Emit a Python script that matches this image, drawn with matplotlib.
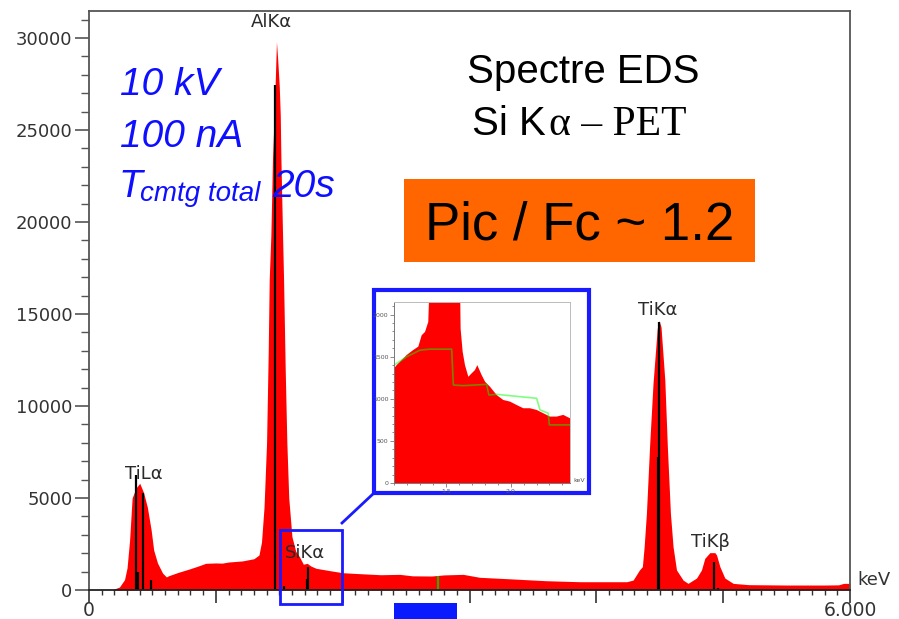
import matplotlib
matplotlib.use("Agg")
import matplotlib.pyplot as plt
from matplotlib.patches import Rectangle
from matplotlib.lines import Line2D
from matplotlib.ticker import MultipleLocator

# ---------------- data ----------------
energy_kev = [0.00, 0.18, 0.20, 0.24, 0.28, 0.30, 0.32, 0.34, 0.37, 0.40, 0.43, 0.46,
              0.49, 0.51, 0.54, 0.58, 0.61, 0.63, 0.70, 0.79, 0.86, 0.92, 1.00, 1.05,
              1.10, 1.21, 1.30, 1.34, 1.36, 1.38, 1.40, 1.413, 1.421, 1.434, 1.447, 1.46,
              1.47, 1.478, 1.488, 1.50, 1.508, 1.513, 1.526, 1.534, 1.547, 1.56, 1.575, 1.60,
              1.63, 1.66, 1.69, 1.72, 1.75, 1.79, 1.90, 2.00, 2.10, 2.30, 2.45, 2.55,
              2.70, 2.80, 2.95, 3.08, 3.34, 3.60, 3.87, 4.24, 4.29, 4.34, 4.363, 4.377,
              4.395, 4.421, 4.447, 4.48, 4.495, 4.51, 4.54, 4.56, 4.584, 4.605, 4.632, 4.684,
              4.723, 4.79, 4.829, 4.855, 4.895, 4.935, 4.948, 4.974, 5.013, 5.079, 5.20, 5.50,
              5.80, 5.91, 5.95, 6.00]
counts = [0, 0, 60, 160, 560, 1200, 2700, 5000, 5540, 5800, 5300, 4500,
          3260, 2170, 1470, 920, 710, 780, 950, 1140, 1300, 1450, 1470, 1460,
          1520, 1580, 1700, 1900, 2600, 4500, 8000, 12900, 16900, 19300, 23500, 25800,
          28000, 29800, 28800, 27400, 25800, 23500, 19300, 16900, 12000, 8000, 5000, 2900,
          2100, 1800, 1400, 1450, 1300, 1180, 1050, 940, 900, 830, 850, 770,
          760, 820, 850, 690, 600, 505, 450, 450, 540, 1090, 1270, 2350,
          4180, 7970, 11230, 14200, 14640, 14300, 11400, 7790, 4180, 2350, 1090, 540,
          360, 650, 1090, 1720, 2030, 2030, 1900, 1270, 650, 360, 290, 270,
          270, 280, 360, 360]

# KLM line markers (energy, marker height)
marker_kev = [0.369, 0.387, 0.429, 0.492, 1.466, 1.534, 1.715, 1.723, 4.488, 4.495, 4.929, 4.96]
marker_height = [6250, 980, 5270, 540, 27450, 220, 600, 1250, 7230, 14580, 1520, 100]
green_marker_kev = [2.755]
green_marker_height = [760]

peak_labels = ["AlKα", "TiLα", "SiKα", "TiKα", "TiKβ"]

y_ticks = [0, 5000, 10000, 15000, 20000, 25000, 30000]
x_ticks = [0, 1, 2, 3, 4, 5, 6]
x_tick_labels = ["0", "", "", "", "", "", "6.000"]

# inset (zoom on the Si Kα region)
inset_kev = [1.098, 1.118, 1.157, 1.196, 1.247, 1.286, 1.312, 1.338, 1.363, 1.378,
             1.48, 1.607, 1.613, 1.629, 1.647, 1.673, 1.698, 1.724, 1.742, 1.776,
             1.802, 1.84, 1.892, 1.943, 1.995, 2.046, 2.098, 2.149, 2.201, 2.253,
             2.304, 2.356, 2.407, 2.459]
inset_counts = [1360, 1400, 1460, 1520, 1580, 1620, 1755, 1795, 1913, 2600,
                29800, 2600, 1835, 1558, 1400, 1262, 1302, 1341, 1400, 1282,
                1203, 1144, 1045, 986, 967, 927, 888, 888, 868, 828,
                789, 789, 809, 769]
inset_bg_kev = [1.098, 1.196, 1.299, 1.376, 1.544, 1.557, 1.634, 1.814, 1.832, 1.892,
                2.201, 2.227, 2.291, 2.299, 2.459]
inset_bg_counts = [1400, 1500, 1578, 1590, 1590, 1164, 1156, 1172, 1045, 1053,
                   1006, 868, 828, 690, 690]
inset_y_ticks = [0, 500, 1000, 1500, 2000]
inset_x_ticks = [1.5, 2.0]
inset_x_tick_labels = ["1.5", "2.0"]

# ---------------- figure ----------------
W, H = 899, 619
fig = plt.figure(figsize=(W / 100, H / 100), dpi=100)
fig.patch.set_facecolor("white")


def fx(px):
    return px / W


def fy(py):
    return 1 - py / H


SANS = ["Liberation Sans", "DejaVu Sans"]
TICKC = "#333333"

ax = fig.add_axes([fx(89), fy(590), fx(850) - fx(89), fy(11) - fy(590)])
ax.fill_between(energy_kev, counts, 0, color="#ff0000", lw=0, zorder=1)
ax.vlines(marker_kev, 0, marker_height, color="black", lw=1.6, zorder=2)
ax.vlines(green_marker_kev, 0, green_marker_height, color="#33aa00", lw=1.6, zorder=2)
ax.set_xlim(0, 6)
ax.set_ylim(0, 31470)

ax.set_xticks(x_ticks)
ax.set_xticklabels(x_tick_labels)
ax.xaxis.set_minor_locator(MultipleLocator(0.1))
ax.set_yticks(y_ticks)
ax.set_yticklabels([str(v) for v in y_ticks])
ax.yaxis.set_minor_locator(MultipleLocator(1000))
ax.tick_params(axis="x", which="major", length=9, width=1.2, color="#333333",
               labelsize=13.5, labelcolor=TICKC, pad=-1)
ax.tick_params(axis="x", which="minor", length=3.5, width=1.0, color="#333333")
ax.tick_params(axis="y", which="major", length=10, width=1.2, color="#555555",
               labelsize=13, labelcolor=TICKC, pad=2)
ax.tick_params(axis="y", which="minor", length=6, width=1.0, color="#555555")
for s in ax.spines.values():
    s.set_color("#555555")
    s.set_linewidth(1.3)
ax.spines["bottom"].set_color("#222222")

fig.text(fx(857), fy(585), "keV", fontsize=13, color=TICKC, ha="left", va="baseline")

# peak labels
label_pos = [(251, 27), (125, 479), (285, 558), (638, 315), (691, 547)]
for lab, (px, py) in zip(peak_labels, label_pos):
    fig.text(fx(px), fy(py), lab, fontsize=13, color="#2a2a2a", ha="left",
             va="baseline", zorder=8)

# small selection box on the Si Kα region + link line
sel = Rectangle((1.508, -760), 0.489, 4020, facecolor="none", edgecolor="#1a1aff",
                lw=2, clip_on=False, zorder=4)
ax.add_patch(sel)
fig.add_artist(Line2D([fx(342), fx(374)], [fy(523), fy(493)], color="#1a1aff", lw=2,
                      transform=fig.transFigure, zorder=5))

# blue bar below the axis
fig.add_artist(Rectangle((fx(394), fy(619)), fx(457) - fx(394), fy(603) - fy(619),
                         transform=fig.transFigure, facecolor="#0a1aff", lw=0, zorder=5))

# inset frame
fig.add_artist(Rectangle((fx(374), fy(493)), fx(589) - fx(374), fy(290) - fy(493),
                         transform=fig.transFigure, facecolor="white",
                         edgecolor="#1a1aff", lw=3, zorder=5))
iax = fig.add_axes([fx(394), fy(483), fx(570) - fx(394), fy(302) - fy(483)])
iax.set_zorder(6)
iax.fill_between(inset_kev, inset_counts, 0, color="#ff0000", lw=0)
iax.plot(inset_bg_kev, inset_bg_counts, color="#00ff00", alpha=0.5, lw=1.2)
iax.set_xlim(1.098, 2.459)
iax.set_ylim(0, 2150)
iax.set_xticks(inset_x_ticks)
iax.set_xticklabels(inset_x_tick_labels)
iax.set_yticks(inset_y_ticks)
iax.set_yticklabels([str(v) for v in inset_y_ticks])
iax.xaxis.set_minor_locator(MultipleLocator(0.1))
iax.yaxis.set_minor_locator(MultipleLocator(100))
iax.tick_params(which="both", labelsize=4.5, labelcolor="#555555", color="#777777",
                width=0.6, pad=1)
iax.tick_params(which="major", length=3)
iax.tick_params(which="minor", length=1.5)
for k, s in iax.spines.items():
    s.set_linewidth(0.7)
    s.set_color("#777777" if k in ("left", "bottom") else "#bbbbbb")
fig.text(fx(573), fy(482), "keV", fontsize=4.5, color="#555555", ha="left",
         va="baseline", zorder=7)

# blue annotation text
BLUE = "#0f0fff"
fig.text(fx(120), fy(95), "10 kV", fontsize=28, style="italic", color=BLUE,
         family=SANS, ha="left", va="baseline", zorder=9)
fig.text(fx(120), fy(147), "100 nA", fontsize=28, style="italic", color=BLUE,
         family=SANS, ha="left", va="baseline", zorder=9)
fig.text(fx(118), fy(197), "T", fontsize=28, style="italic", color=BLUE,
         family=SANS, ha="left", va="baseline", zorder=9)
fig.text(fx(140), fy(201), "cmtg total", fontsize=20, style="italic", color=BLUE,
         family=SANS, ha="left", va="baseline", zorder=9)
fig.text(fx(272), fy(197), "20s", fontsize=28, style="italic", color=BLUE,
         family=SANS, ha="left", va="baseline", zorder=9)

# title text
fig.text(fx(583), fy(83), "Spectre EDS", fontsize=29, color="black", family=SANS,
         ha="center", va="baseline", zorder=9)
fig.text(fx(472), fy(135), "Si K", fontsize=29, color="black", family=SANS,
         ha="left", va="baseline", zorder=9)
fig.text(fx(549), fy(135), "α – PET", fontsize=30, color="black",
         family=["Liberation Serif", "DejaVu Serif"], ha="left", va="baseline", zorder=9)

# orange box
fig.add_artist(Rectangle((fx(404), fy(262)), fx(755) - fx(404), fy(179) - fy(262),
                         transform=fig.transFigure, facecolor="#ff6600", lw=0, zorder=8))
fig.text(fx(580), fy(240), "Pic / Fc ~ 1.2", fontsize=38, color="black", family=SANS,
         ha="center", va="baseline", zorder=9)

fig.savefig("out.png", dpi=100)
